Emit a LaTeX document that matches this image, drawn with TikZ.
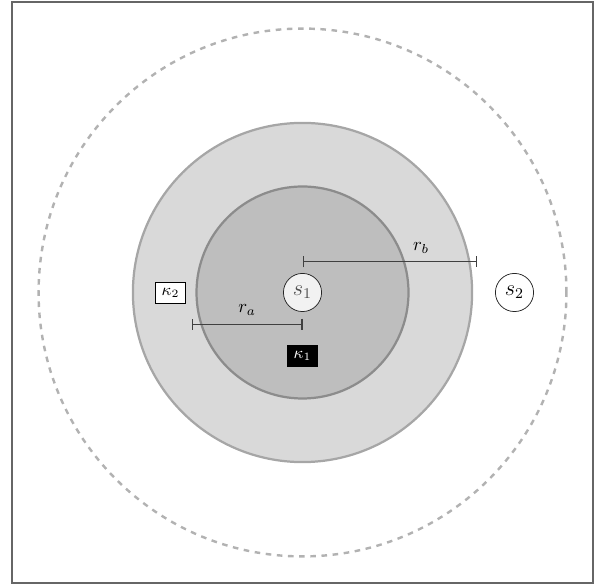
\documentclass[tikz,border=0pt]{standalone}
\usepackage{xcolor}
\usepackage{amsmath}
\usepackage{tikz}
\usetikzlibrary{arrows.meta}

\begin{document}
\begin{tikzpicture}[x=1cm,y=1cm,
  disk/.style={fill=gray,fill opacity=0.3,draw opacity=1,line width=1.2pt},
  site/.style={circle,draw=black!85,fill=gray!10,text=black!70,minimum size=0.72cm,inner sep=0pt,font=\large},
  tagwhite/.style={draw=black,fill=white,minimum width=0.56cm,minimum height=0.4cm,inner sep=0pt,font=\small},
  tagblack/.style={fill=black,text=white,minimum width=0.58cm,minimum height=0.42cm,inner sep=0pt,font=\small},
  radius line/.style={black!75,semithick,{|[width=6pt]}-{|[width=6pt]}}]
\useasboundingbox (-5.708,-5.5) rectangle (5.538,5.519);
\draw[black!60,line width=0.9pt] (-5.48,-5.48) rectangle (5.48,5.48);

\draw[gray!60,line width=1.3pt,dashed] (0,0) circle (4.98);
\filldraw[disk,draw=gray!70] (0,0) circle (3.2);
\filldraw[disk,draw=gray!90] (0,0) circle (2);

\node[site] (s1) at (0,0) {$s_1$};
\node[site,fill=white,text=black] (s2) at (4,0) {$s_2$};
\node[tagwhite] (k2) at (-2.49,0) {$\kappa_2$};
\node[tagblack] (k1) at (0,-1.2) {$\kappa_1$};

\coordinate (ra0) at (0,-0.6);
\coordinate (ra1) at (-2.09,-0.6);
\draw[radius line] (ra0) -- node[above,pos=0.5,yshift=1pt,text=black]{$r_a$} (ra1);
\coordinate (rb0) at (0,0.58);
\coordinate (rb1) at (3.29,0.58);
\draw[radius line] (rb0) -- node[above,pos=0.68,yshift=1pt,text=black]{$r_b$} (rb1);
\end{tikzpicture}
\end{document}
